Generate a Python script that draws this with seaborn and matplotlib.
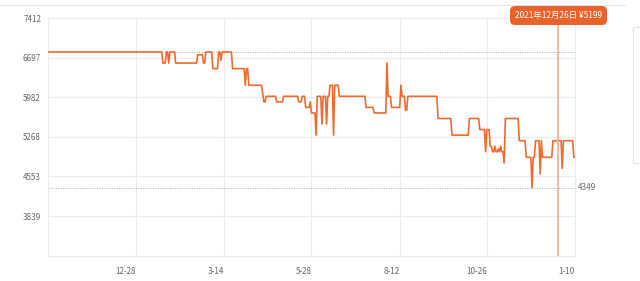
import matplotlib
matplotlib.use("Agg")
import matplotlib.pyplot as plt
import matplotlib.transforms as mtransforms
from matplotlib.patches import FancyBboxPatch, Rectangle
from matplotlib.lines import Line2D
import seaborn as sns
import pandas as pd

# ---- data (price change points) ----
change_dates = [
    "2020-10-13", "2021-01-20", "2021-01-23", "2021-01-25", "2021-01-26", "2021-01-31",
    "2021-02-19", "2021-02-24", "2021-02-26", "2021-03-04", "2021-03-09", "2021-03-11",
    "2021-03-12", "2021-03-21", "2021-04-01", "2021-04-02", "2021-04-04", "2021-04-16",
    "2021-04-17", "2021-04-19", "2021-04-28", "2021-05-04", "2021-05-17", "2021-05-20",
    "2021-05-23", "2021-05-27", "2021-05-28", "2021-06-01", "2021-06-02", "2021-06-06",
    "2021-06-07", "2021-06-10", "2021-06-11", "2021-06-13", "2021-06-16", "2021-06-17",
    "2021-06-21", "2021-07-14", "2021-07-21", "2021-08-01", "2021-08-02", "2021-08-05",
    "2021-08-13", "2021-08-14", "2021-08-17", "2021-08-19", "2021-09-14", "2021-09-26",
    "2021-10-11", "2021-10-20", "2021-10-25", "2021-10-26", "2021-10-29", "2021-10-31",
    "2021-11-02", "2021-11-03", "2021-11-05", "2021-11-06", "2021-11-07", "2021-11-08",
    "2021-11-10", "2021-11-11", "2021-11-23", "2021-11-29", "2021-12-04", "2021-12-05",
    "2021-12-07", "2021-12-11", "2021-12-12", "2021-12-13", "2021-12-22", "2021-12-30",
    "2021-12-31", "2022-01-09", "2022-01-10",
]
change_prices = [
    6799, 6599, 6799, 6599, 6799, 6599,
    6749, 6599, 6799, 6499, 6799, 6649,
    6799, 6499, 6199, 6499, 6199, 6049,
    5899, 5999, 5899, 5999, 5899, 5999,
    5799, 5899, 5699, 5299, 5999, 5499,
    5999, 5499, 5999, 6199, 5299, 6199,
    5999, 5799, 5699, 6599, 5999, 5799,
    6199, 5999, 5749, 5999, 5599, 5299,
    5599, 5399, 4999, 5399, 5099, 4999,
    5099, 4999, 5049, 4999, 5099, 4999,
    4799, 5599, 5199, 4899, 4349, 4899,
    5199, 4599, 5199, 4899, 5199, 4699,
    5199, 4899, 4899,
]
y_ticks = [3839, 4553, 5268, 5982, 6697, 7412]
y_tick_labels = ["3839", "4553", "5268", "5982", "6697", "7412"]
x_ticks = ["2020-12-28", "2021-03-14", "2021-05-28", "2021-08-12", "2021-10-26", "2022-01-10"]
x_tick_labels = ["12-28", "3-14", "5-28", "8-12", "10-26", "1-10"]
max_price = 6799
min_price = 4349
tip_date = "2021-12-26"
tip_price = 5199
tip_text = "2021年12月26日 ¥5199"

# daily series (price held until the next change)
chg = pd.Series(change_prices, index=pd.to_datetime(change_dates))
days = pd.date_range(chg.index[0], chg.index[-1], freq="D")
daily = chg.reindex(days).ffill()
df = pd.DataFrame({"date": days, "price": daily.values})

sns.set_style("white")
plt.rcParams["font.family"] = ["Noto Sans CJK SC", "DejaVu Sans"]

W, H = 640, 281
fig = plt.figure(figsize=(W / 100, H / 100), dpi=100)
ax = fig.add_axes([48 / W, 1 - 255.7 / H, (575 - 48) / W, (255.7 - 18) / H])

line_color = "#ef6a2d"
grid_color = "#ebebeb"
text_color = "#666666"

sns.lineplot(data=df, x="date", y="price", ax=ax, color=line_color, linewidth=1.2, zorder=3)

ax.set_xlim(pd.Timestamp("2020-10-13"), pd.Timestamp("2022-01-10"))
ax.set_ylim(3124, 7412)
ax.set_yticks(y_ticks)
ax.set_yticklabels(y_tick_labels)
ax.set_xticks(pd.to_datetime(x_ticks))
ax.set_xticklabels(x_tick_labels, ha="right")
ax.set_xlabel("")
ax.set_ylabel("")
ax.tick_params(axis="both", length=0, labelsize=5.8, colors=text_color)
ax.tick_params(axis="x", pad=8)
ax.tick_params(axis="y", pad=5)
ax.grid(True, color=grid_color, linewidth=0.8)
for s in ax.spines.values():
    s.set_color(grid_color)
    s.set_linewidth(0.8)

ax.axhline(max_price, color="#aaaaaa", linewidth=0.7, linestyle=(0, (1, 1.5)), zorder=2)
ax.axhline(min_price, color="#aaaaaa", linewidth=0.7, linestyle=(0, (1, 1.5)), zorder=2)
trans = mtransforms.blended_transform_factory(ax.transAxes, ax.transData)
ax.text(1.005, min_price, str(min_price), transform=trans, ha="left", va="center",
        fontsize=5.8, color=text_color)

ax.axvline(pd.Timestamp(tip_date), ymin=0, ymax=0.97, color="#f7ab8c", linewidth=1.2, zorder=4)

# tooltip box (pixel coordinates)
box = FancyBboxPatch((510, H - 25), 97, 19, boxstyle="round,pad=0,rounding_size=5",
                     transform=None, facecolor="#e8622c", edgecolor="none", zorder=10)
fig.patches.append(box)
fig.text(558.5 / W, 1 - 15.5 / H, tip_text, ha="center", va="center", color="white",
         fontsize=6.0, zorder=11)

# decorations: top rule and right card edge
fig.lines.append(Line2D([0, 625], [H - 5, H - 5], transform=None, color="#e6e6e6", linewidth=0.8))
fig.patches.append(Rectangle((633, H - 163), 20, 136, transform=None, facecolor="white",
                             edgecolor="#e3e3e3", linewidth=0.8))

fig.savefig("out.png", dpi=100)
